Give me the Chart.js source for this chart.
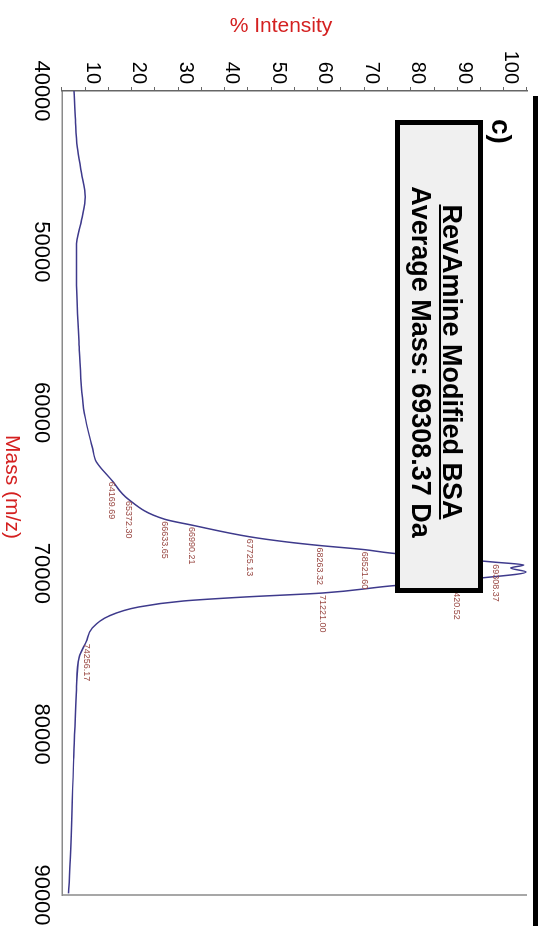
<!DOCTYPE html>
<html>
<head>
<meta charset="utf-8">
<script src="https://cdn.jsdelivr.net/npm/chart.js@4.4.1/dist/chart.umd.min.js"></script>
<style>
  html, body { margin: 0; padding: 0; background: #fff; overflow: hidden; }
  /* the spectrum is laid out landscape and turned a quarter clockwise */
  #wrap { position: absolute; left: 0; top: 0; width: 944px; height: 542px;
          transform-origin: 0 0; transform: translate(542px, 0) rotate(90deg); }
</style>
</head>
<body>
<div id="wrap"><canvas id="spectrum" width="944" height="542"></canvas></div>
<script>
// deconvoluted spectrum: mass (m/z) against % intensity
var masses = [40000, 41800, 43480, 45100, 46590, 48020, 49700, 51750, 55920, 60020,
              62140, 63070, 64169.69, 65372.30, 66633.65, 66990.21, 67725.13, 68050,
              68263.32, 68521.60, 68731, 69308.37, 69478, 69664, 69913, 70286, 70420.52,
              70784, 71221.00, 71468, 71716, 72090, 72650, 73396, 74256.17, 75199,
              77251, 81604, 87823, 89900];
var intensity = [7.6, 7.9, 8.3, 9.2, 10.0, 9.2, 8.1, 8.1, 8.7, 9.8,
                 11.5, 12.4, 15.6, 19.2, 27.1, 32.8, 45.4, 53.5,
                 60.3, 70.0, 75.5, 98.3, 104.3, 101.5, 104.8, 95.1, 89.8,
                 75.5, 61.0, 44.3, 31.1, 21.5, 15.1, 11.5, 10.2, 8.7,
                 8.1, 7.5, 6.8, 6.4];

// peaks that carry a mass label
var peakMasses = [64169.69, 65372.30, 66633.65, 66990.21, 67725.13, 68263.32,
                  68521.60, 69308.37, 70420.52, 71221.00, 74256.17];

var massRange = [40000, 90000];
var intensityRange = [5, 105];

var sampleName = 'RevAmine Modified BSA';
var averageMass = '69308.37';
var panelTag = 'c)';

var FONT = 'Liberation Sans, Arial, sans-serif';

var points = masses.map(function (m, i) { return { x: m, y: intensity[i] }; });

var peakLabelPlugin = {
  id: 'peakLabels',
  afterDatasetsDraw: function (chart) {
    var ctx = chart.ctx;
    var meta = chart.getDatasetMeta(0);
    ctx.save();
    ctx.font = '9px ' + FONT;
    ctx.fillStyle = '#9a4a45';
    ctx.textAlign = 'left';
    ctx.textBaseline = 'middle';
    peakMasses.forEach(function (m) {
      var el = meta.data[masses.indexOf(m)];
      if (!el) return;
      ctx.fillText(m.toFixed(2), el.x + 2, el.y);
    });
    ctx.restore();
  }
};

var framePlugin = {
  id: 'frame',
  afterDraw: function (chart) {
    var ctx = chart.ctx;
    var a = chart.chartArea;
    ctx.save();

    // right edge of the plot
    ctx.strokeStyle = '#8a8a8a';
    ctx.lineWidth = 1.5;
    ctx.beginPath();
    ctx.moveTo(a.right, a.top);
    ctx.lineTo(a.right, a.bottom);
    ctx.stroke();

    // heavy rule along the top
    ctx.fillStyle = '#000';
    ctx.fillRect(96, 4, 830, 5);

    // axis titles
    ctx.fillStyle = '#d42020';
    ctx.textAlign = 'center';
    ctx.textBaseline = 'middle';
    ctx.font = '21px ' + FONT;
    ctx.fillText('Mass (m/z)', 487, 530);
    ctx.save();
    ctx.translate(26, 261);
    ctx.rotate(-Math.PI / 2);
    ctx.fillText('% Intensity', 0, 0);
    ctx.restore();

    // sample box
    ctx.fillStyle = '#f0f0f0';
    ctx.fillRect(122, 61, 469, 84);
    ctx.strokeStyle = '#000';
    ctx.lineWidth = 5;
    ctx.strokeRect(122.5, 61.5, 468, 83);

    ctx.fillStyle = '#000';
    ctx.font = 'bold 27px ' + FONT;
    ctx.textBaseline = 'alphabetic';
    ctx.fillText(sampleName, 362, 99);
    var w = ctx.measureText(sampleName).width;
    ctx.fillRect(362 - w / 2, 101, w, 2);
    ctx.fillText('Average Mass: ' + averageMass + ' Da', 362, 130);

    ctx.font = 'bold 28px ' + FONT;
    ctx.textAlign = 'left';
    ctx.fillText(panelTag, 119, 50);
    ctx.restore();
  }
};

new Chart(document.getElementById('spectrum'), {
  type: 'line',
  data: {
    datasets: [{
      data: points,
      borderColor: '#3e3a8c',
      borderWidth: 1.5,
      pointRadius: 0,
      fill: false,
      cubicInterpolationMode: 'monotone'
    }]
  },
  options: {
    responsive: false,
    animation: false,
    layout: { padding: { top: 10, right: 49, left: 0, bottom: 0 } },
    plugins: { legend: { display: false }, tooltip: { enabled: false } },
    scales: {
      x: {
        type: 'linear',
        min: massRange[0],
        max: massRange[1],
        afterFit: function (s) { s.height = 62; },
        ticks: {
          stepSize: 10000,
          padding: 8,
          color: '#000',
          font: { family: FONT, size: 22 },
          maxRotation: 0,
          callback: function (v) { return String(v); }
        },
        grid: { display: true, drawOnChartArea: false, drawTicks: false },
        border: { display: true, color: '#8a8a8a', width: 1.5 }
      },
      y: {
        type: 'linear',
        min: intensityRange[0],
        max: intensityRange[1],
        afterFit: function (s) { s.width = 91; },
        ticks: {
          stepSize: 5,
          autoSkip: false,
          padding: 3,
          labelOffset: -7,
          color: '#000',
          font: { family: FONT, size: 20 },
          callback: function (v) { return v % 10 === 0 ? String(v) : ''; }
        },
        grid: { display: true, drawOnChartArea: false, drawTicks: true, tickLength: 4, color: '#666' },
        border: { display: true, color: '#666', width: 1.5 }
      }
    }
  },
  plugins: [peakLabelPlugin, framePlugin]
});
</script>
</body>
</html>
